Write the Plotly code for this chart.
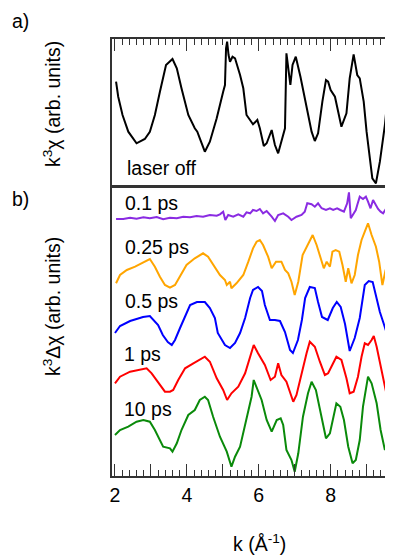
import plotly.graph_objects as go

# ---------------- data (k in 1/Angstrom, arbitrary units) ----------------
k_off = [2.03, 2.09, 2.21, 2.37, 2.60, 2.83, 2.97, 3.11, 3.25, 3.42, 3.60, 3.72, 3.85, 4.04, 4.22, 4.29,
         4.36, 4.50, 4.64, 4.83, 5.01, 5.06, 5.09, 5.12, 5.16, 5.20, 5.27, 5.34, 5.48, 5.57, 5.66, 5.76,
         5.84, 5.96, 6.03, 6.14, 6.22, 6.36, 6.45, 6.54, 6.63, 6.73, 6.77, 6.88, 6.94, 7.03, 7.16, 7.31,
         7.47, 7.56, 7.65, 7.77, 7.87, 7.93, 8.00, 8.12, 8.21, 8.30, 8.44, 8.53, 8.64, 8.74, 8.81, 8.92,
         9.00, 9.11, 9.16, 9.26, 9.37, 9.51, 9.65, 9.72, 9.81]
chi_off = [10.33, 8.83, 7.0, 5.33, 4.17, 4.6, 5.33, 7.0, 9.33, 12.0, 12.6, 11.67, 9.67, 7.0, 5.67, 5.33,
           4.67, 3.33, 4.33, 6.67, 9.33, 10.0, 13.67, 14.33, 13.0, 12.33, 12.83, 12.67, 11.0, 9.67, 7.0, 6.45,
           6.07, 6.5, 5.67, 3.9, 4.17, 5.5, 4.0, 3.17, 4.33, 5.67, 13.17, 10.0, 12.0, 12.83, 10.83, 8.0,
           5.33, 4.4, 5.17, 8.33, 10.5, 10.33, 9.5, 8.83, 7.33, 5.83, 7.17, 10.67, 13.07, 11.0, 10.67, 8.33,
           5.33, 2.17, 0.67, 0.17, 2.33, 6.0, 11.17, 10.73, 10.0]

k_01 = [2.03, 2.23, 2.42, 2.60, 2.79, 2.97, 3.16, 3.34, 3.53, 3.72, 3.90, 4.09, 4.27, 4.45, 4.64, 4.83,
        4.92, 5.01, 5.07, 5.15, 5.29, 5.43, 5.57, 5.66, 5.76, 5.84, 5.94, 6.03, 6.12, 6.22, 6.36, 6.45,
        6.54, 6.68, 6.82, 6.91, 7.05, 7.19, 7.28, 7.35, 7.47, 7.56, 7.65, 7.75, 7.87, 7.98, 8.07, 8.18,
        8.27, 8.37, 8.46, 8.51, 8.56, 8.62, 8.70, 8.74, 8.81, 8.90, 8.98, 9.04, 9.11, 9.18, 9.26, 9.32,
        9.39, 9.46, 9.55, 9.63, 9.72]
d_01 = [25.7, 25.7, 25.83, 25.73, 25.87, 25.77, 25.9, 25.67, 25.83, 25.77, 25.93, 25.87, 26.0, 25.93, 26.1, 26.03,
        26.17, 26.43, 25.6, 26.1, 25.93, 26.17, 25.93, 26.37, 26.27, 26.6, 26.5, 26.7, 26.27, 26.5, 25.93, 25.5,
        26.1, 26.27, 25.93, 25.6, 25.93, 26.1, 26.43, 27.27, 27.17, 26.93, 27.27, 26.77, 26.6, 26.77, 26.6, 26.77,
        26.6, 26.43, 27.27, 28.37, 25.77, 26.1, 26.6, 27.1, 27.93, 27.7, 27.93, 27.43, 26.77, 27.6, 27.1, 26.7,
        26.43, 26.27, 26.77, 27.1, 26.7]

k_025 = [2.03, 2.14, 2.33, 2.56, 2.79, 2.97, 3.11, 3.25, 3.39, 3.53, 3.67, 3.81, 3.99, 4.22, 4.45, 4.59,
         4.73, 4.92, 5.06, 5.11, 5.20, 5.24, 5.38, 5.57, 5.71, 5.76, 5.84, 5.94, 6.03, 6.12, 6.26, 6.36,
         6.48, 6.63, 6.73, 6.82, 6.91, 7.00, 7.10, 7.22, 7.35, 7.50, 7.61, 7.72, 7.81, 7.89, 7.98, 8.05,
         8.14, 8.24, 8.33, 8.42, 8.49, 8.58, 8.67, 8.76, 8.86, 8.95, 9.04, 9.14, 9.26, 9.35, 9.44, 9.53,
         9.65, 9.72]
d_025 = [19.27, 20.1, 20.6, 20.93, 21.37, 21.7, 20.93, 19.93, 19.1, 18.83, 19.1, 19.93, 21.1, 21.77, 22.27, 21.93,
         21.1, 20.1, 19.6, 19.1, 19.43, 18.77, 19.27, 20.1, 21.43, 21.93, 22.77, 23.43, 23.6, 23.1, 21.93, 20.77,
         21.43, 21.43, 20.6, 20.27, 19.43, 18.1, 19.43, 22.1, 23.1, 24.1, 23.1, 21.93, 20.77, 21.43, 20.93, 22.43,
         22.6, 22.43, 21.1, 19.43, 20.77, 19.27, 20.1, 22.1, 23.6, 24.43, 25.27, 24.1, 22.93, 21.43, 19.1, 20.6,
         21.27, 21.6]

k_05 = [2.00, 2.14, 2.42, 2.78, 2.97, 3.11, 3.20, 3.33, 3.47, 3.58, 3.67, 3.81, 3.95, 4.09, 4.28, 4.50,
        4.64, 4.78, 4.86, 5.06, 5.20, 5.34, 5.48, 5.62, 5.76, 5.84, 5.98, 6.09, 6.17, 6.31, 6.45, 6.59,
        6.73, 6.87, 6.95, 7.09, 7.20, 7.29, 7.42, 7.56, 7.65, 7.76, 7.92, 8.06, 8.17, 8.28, 8.40, 8.53,
        8.67, 8.81, 8.95, 9.06, 9.17, 9.28, 9.37, 9.48, 9.56, 9.65, 9.73]
d_05 = [14.3, 15.0, 15.5, 15.9, 16.0, 15.4, 15.1, 14.1, 13.4, 13.1, 13.6, 14.8, 16.0, 17.1, 17.4, 17.4,
        16.8, 15.8, 14.3, 13.1, 12.8, 13.3, 14.3, 15.8, 17.8, 18.6, 18.9, 18.5, 17.1, 15.6, 15.6, 15.5,
        14.4, 12.6, 12.3, 13.6, 15.6, 17.8, 18.9, 18.8, 17.4, 15.9, 15.6, 16.8, 17.4, 16.9, 15.2, 12.5,
        13.8, 15.8, 19.1, 19.5, 19.4, 17.6, 16.4, 15.2, 14.3, 14.8, 15.6]

k_1 = [2.00, 2.14, 2.42, 2.70, 2.88, 3.02, 3.20, 3.39, 3.53, 3.62, 3.76, 3.95, 4.18, 4.36, 4.50, 4.64,
       4.83, 5.01, 5.12, 5.24, 5.43, 5.62, 5.76, 5.86, 5.98, 6.17, 6.33, 6.45, 6.54, 6.63, 6.77, 6.91,
       6.96, 7.05, 7.19, 7.33, 7.42, 7.56, 7.70, 7.84, 7.93, 8.07, 8.16, 8.30, 8.44, 8.53, 8.64, 8.76,
       8.86, 8.95, 9.04, 9.14, 9.20, 9.28, 9.41, 9.55, 9.65, 9.72]
d_1 = [9.27, 9.93, 10.43, 10.6, 10.77, 10.27, 9.43, 8.43, 8.43, 8.6, 9.6, 10.77, 11.27, 11.6, 11.93, 11.43,
       9.77, 8.6, 7.6, 8.27, 8.93, 10.27, 11.93, 13.1, 12.27, 11.1, 9.6, 9.93, 11.27, 10.1, 9.43, 7.93,
       7.43, 8.1, 10.27, 12.27, 13.43, 12.93, 11.43, 10.1, 10.27, 11.27, 11.93, 11.6, 9.77, 8.27, 8.43, 9.93,
       11.93, 13.27, 13.1, 13.6, 14.0, 12.93, 10.6, 8.27, 9.93, 12.6]

k_10 = [2.00, 2.14, 2.37, 2.60, 2.79, 2.97, 3.11, 3.25, 3.34, 3.53, 3.60, 3.72, 3.85, 4.04, 4.22, 4.36,
        4.50, 4.59, 4.73, 4.92, 5.11, 5.24, 5.34, 5.48, 5.66, 5.80, 5.86, 5.94, 6.08, 6.22, 6.36, 6.50,
        6.61, 6.68, 6.77, 6.91, 7.00, 7.10, 7.23, 7.37, 7.47, 7.59, 7.72, 7.87, 7.98, 8.09, 8.16, 8.27,
        8.37, 8.49, 8.61, 8.70, 8.81, 8.90, 9.04, 9.14, 9.28, 9.39, 9.51, 9.60, 9.72]
d_10 = [4.1, 4.6, 4.93, 5.43, 5.6, 5.43, 4.6, 3.6, 2.93, 2.77, 2.43, 3.27, 4.6, 6.1, 6.6, 7.6,
        7.93, 7.6, 5.93, 3.93, 2.43, 0.93, 1.93, 2.93, 5.6, 7.93, 9.6, 8.93, 7.6, 5.6, 4.43, 5.6,
        5.77, 5.1, 2.6, 1.6, 0.43, 2.27, 5.93, 8.27, 9.43, 8.6, 6.27, 3.77, 4.27, 5.93, 7.27, 6.93,
        5.6, 2.93, 1.27, 1.6, 3.6, 6.93, 9.93, 9.27, 7.27, 4.6, 2.6, 3.27, 4.6]

series_names = ["0.1 ps", "0.25 ps", "0.5 ps", "1 ps", "10 ps"]
series_k = [k_01, k_025, k_05, k_1, k_10]
series_d = [d_01, d_025, d_05, d_1, d_10]
series_colors = ["#8A2BE2", "#FFA500", "#0000FF", "#FF0000", "#0A8A0A"]

major_ticks = [2, 3, 4, 5, 6, 7, 8, 9]
major_text = ["2", "", "4", "", "6", "", "8", ""]

# ---------------- figure ----------------
# page body has an 8px default margin: the figure is shrunk/shifted to compensate
OFF = 8
W, H = 393 - OFF, 555 - OFF
L, R, T, B = 112 - OFF, 0, 39 - OFF, 79
FONT = "Liberation Sans, Arial, sans-serif"
FS = 19.5

fig = go.Figure()
fig.add_trace(go.Scatter(x=k_off, y=chi_off, mode="lines", line=dict(color="black", width=2),
                         xaxis="x2", yaxis="y2", showlegend=False))
for kk, dd, c in zip(series_k, series_d, series_colors):
    fig.add_trace(go.Scatter(x=kk, y=dd, mode="lines", line=dict(color=c, width=2),
                             xaxis="x", yaxis="y", showlegend=False))

PLOT_W = W - L - R
PLOT_H = H - T - B
def py2paper(py):          # py: pixel row in the 393x555 reference
    return (476 - py) / PLOT_H
def px2paper(px):
    return (px - 112) / PLOT_W

xr = [1.917, 9.735]
axis_common = dict(range=xr, showgrid=False, zeroline=False, showline=True, linecolor="#333",
                   linewidth=1.5, ticks="inside", ticklen=12, tickwidth=1, tickcolor="#333",
                   tickmode="array", tickvals=major_ticks, ticktext=major_text, mirror=True,
                   minor=dict(tickmode="linear", tick0=2, dtick=0.2, ticks="inside", ticklen=6,
                              tickwidth=1, tickcolor="#333", showgrid=False))

fig.update_layout(
    width=W, height=H, margin=dict(l=L, r=R, t=T, b=B, pad=0),
    paper_bgcolor="white", plot_bgcolor="white",
    font=dict(family=FONT, size=FS, color="black"),
    xaxis=dict(**axis_common, anchor="y", side="bottom", showticklabels=True,
               tickfont=dict(family=FONT, size=FS, color="black"), ticklabelstandoff=1),
    xaxis2=dict(**axis_common, anchor="y2", side="top", showticklabels=False),
    yaxis=dict(domain=[0, py2paper(187.5)], range=[0, 28.85], showgrid=False, zeroline=False,
               showline=True, linecolor="#333", linewidth=1.5, ticks="", showticklabels=False),
    yaxis2=dict(domain=[py2paper(185), 1], range=[0, 14.6], showgrid=False, zeroline=False,
                showline=True, linecolor="#333", linewidth=1.5, ticks="", showticklabels=False),
)

ann = []
def add_text(text, px, py, xanchor="left", yanchor="middle", size=FS, angle=0):
    ann.append(dict(text=text, x=px2paper(px), y=py2paper(py), xref="paper", yref="paper",
                    xanchor=xanchor, yanchor=yanchor, showarrow=False, textangle=angle,
                    font=dict(family=FONT, size=size, color="black")))

add_text("laser off", 125, 168)
label_y = [203, 246.5, 301, 354, 409]
label_x = [123, 123, 123, 122, 122]
for name, lx, ly in zip(series_names, label_x, label_y):
    add_text(name, lx, ly)
add_text("a)", 10, 8, yanchor="top")
add_text("b)", 10, 199)
add_text("k<sup>3</sup>χ (arb. units)", 52, 104, xanchor="center", angle=-90)
add_text("k<sup>3</sup>Δχ (arb. units)", 52, 307, xanchor="center", angle=-90)
add_text("k (Å<sup>-1</sup>)", 259, 543, xanchor="center")
fig.update_layout(annotations=ann)

fig.write_html("out.html")
